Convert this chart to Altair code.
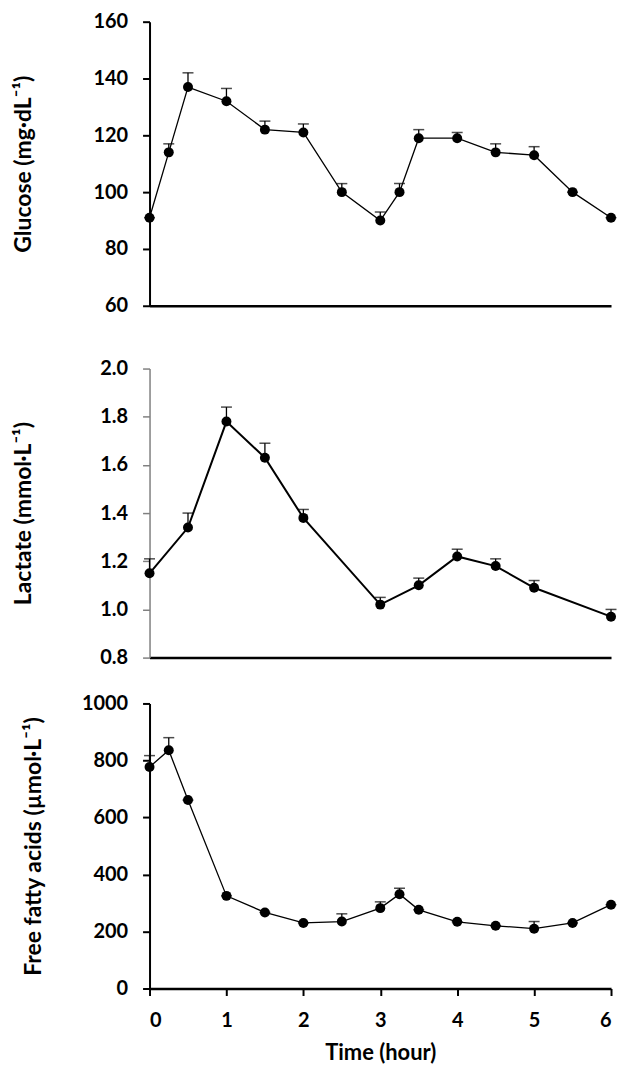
import altair as alt
import pandas as pd

# ---- data ----
time_glucose = [0, 0.25, 0.5, 1, 1.5, 2, 2.5, 3, 3.25, 3.5, 4, 4.5, 5, 5.5, 6]
glucose = [91, 114, 137, 132, 122, 121, 100, 90, 100, 119, 119, 114, 113, 100, 91]
glucose_sem = [0, 3, 5, 4.5, 3, 3, 3, 3, 3, 3, 2, 3, 3, 0, 0]

time_lactate = [0, 0.5, 1, 1.5, 2, 3, 3.5, 4, 4.5, 5, 6]
lactate = [1.15, 1.34, 1.78, 1.63, 1.38, 1.02, 1.10, 1.22, 1.18, 1.09, 0.97]
lactate_sem = [0.06, 0.06, 0.06, 0.06, 0.035, 0.03, 0.03, 0.03, 0.03, 0.03, 0.03]

time_ffa = [0, 0.25, 0.5, 1, 1.5, 2, 2.5, 3, 3.25, 3.5, 4, 4.5, 5, 5.5, 6]
ffa = [777, 836, 661, 325, 267, 230, 235, 282, 331, 276, 234, 220, 210, 230, 294]
ffa_sem = [40, 44, 0, 0, 0, 0, 27, 22, 21, 0, 0, 0, 25, 0, 0]

x_ticks = [0, 1, 2, 3, 4, 5, 6]
glucose_ticks = [60, 80, 100, 120, 140, 160]
lactate_ticks = [0.8, 1.0, 1.2, 1.4, 1.6, 1.8, 2.0]
ffa_ticks = [0, 200, 400, 600, 800, 1000]

FONT = "Lato"
W = 463


def panel(times, vals, sems, ydomain, yticks, ytitle, height, fmt,
          ycolor, ywidth, line_w, bottom, title_x, x_hack=0):
    df = pd.DataFrame({"t": times, "v": vals,
                       "hi": [v + s for v, s in zip(vals, sems)]})
    if bottom:
        xaxis = alt.Axis(values=x_ticks, format="d", title="Time (hour)",
                         domainColor="black", domainWidth=2.5, tickColor="black",
                         tickWidth=2, tickSize=7, labelPadding=15, titlePadding=12,
                         titleFontSize=22, grid=False)
    else:
        xaxis = alt.Axis(values=x_ticks, labels=False, title=None,
                         domainColor="black", domainWidth=2.5,
                         ticks=True, tickOpacity=0, tickSize=x_hack if x_hack > 0 else 1,
                         grid=False)
    xs = alt.Scale(domain=[0, 6], nice=False, zero=False)
    ys = alt.Scale(domain=ydomain, nice=False, zero=False)
    yaxis = alt.Axis(values=yticks, format=fmt, title=ytitle,
                     domainColor=ycolor, domainWidth=ywidth, tickColor=ycolor,
                     tickWidth=ywidth, tickSize=7, labelPadding=15,
                     titleX=title_x, titleBaseline="middle", titleFontSize=23,
                     grid=False)
    X = alt.X("t:Q", scale=xs, axis=xaxis)
    base = alt.Chart(df)
    rule = base.mark_rule(color="black", strokeWidth=1.3).encode(
        x=X, y=alt.Y("v:Q", scale=ys, axis=yaxis), y2="hi:Q")
    cap = base.mark_tick(color="black", orient="horizontal", size=11,
                         thickness=1.5).encode(
        x=X, y=alt.Y("hi:Q", scale=ys, axis=yaxis))
    line = base.mark_line(color="black", strokeWidth=line_w).encode(
        x=X, y=alt.Y("v:Q", scale=ys, axis=yaxis))
    pts = base.mark_circle(color="black", size=100, opacity=1).encode(
        x=X, y=alt.Y("v:Q", scale=ys, axis=yaxis))
    return alt.layer(rule, cap, line, pts).properties(width=W, height=height)


p1 = panel(time_glucose, glucose, glucose_sem, [60, 160], glucose_ticks,
           "Glucose (mg·dL⁻¹)", 285, "d", "black", 2, 1.3, False, -126, x_hack=27)
p2 = panel(time_lactate, lactate, lactate_sem, [0.8, 2.0], lactate_ticks,
           "Lactate (mmol·L⁻¹)", 290, ".1f", "#808080", 1.5, 2, False, -126)
p3 = panel(time_ffa, ffa, ffa_sem, [0, 1000], ffa_ticks,
           "Free fatty acids (µmol·L⁻¹)", 286, "d", "black", 2, 1.3, True, -116)

chart = alt.vconcat(p1, p2, p3, spacing=26).properties(
    padding={"left": 5, "top": 2, "right": 0, "bottom": 0}
).configure_view(stroke=None).configure_axis(
    labelFont=FONT, labelFontWeight="bold", labelFontSize=20, labelColor="black",
    titleFont=FONT, titleFontWeight="bold", titleFontSize=20, titleColor="black",
    grid=False
)

chart.save("out.html", embed_options={"renderer": "svg", "actions": False})
